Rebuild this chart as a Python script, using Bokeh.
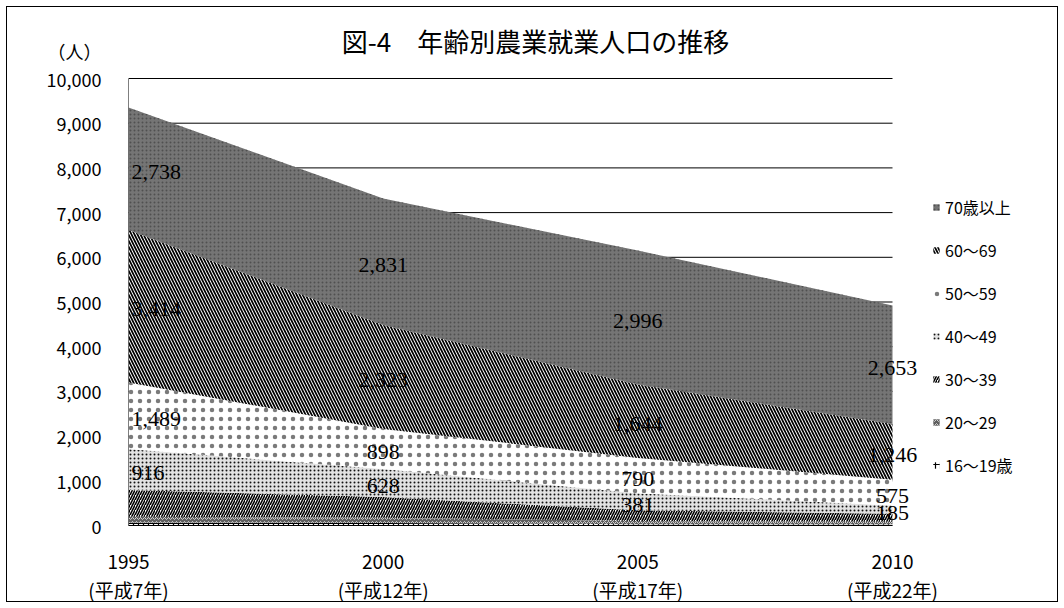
from bokeh.plotting import figure
from bokeh.models import (Range1d, FixedTicker, ColumnDataSource, LabelSet, Legend,
                          LegendItem, Label, NumeralTickFormatter)
from bokeh.core.properties import value
from bokeh.embed import file_html
from bokeh.resources import INLINE

# ---------------- data ----------------
years = [1995, 2000, 2005, 2010]
year_labels = ["1995\n(平成7年)", "2000\n(平成12年)", "2005\n(平成17年)", "2010\n(平成22年)"]

age_16_19 = [64, 55, 30, 28]
age_20_29 = [130, 120, 70, 55]
age_30_39 = [600, 460, 240, 180]
age_40_49 = [916, 628, 381, 185]
age_50_59 = [1489, 898, 790, 575]
age_60_69 = [3414, 2323, 1644, 1246]
age_70_up = [2738, 2831, 2996, 2653]

series_names = ["16～19歳", "20～29", "30～39", "40～49", "50～59", "60～69", "70歳以上"]
series_values = [age_16_19, age_20_29, age_30_39, age_40_49, age_50_59, age_60_69, age_70_up]
labeled_series = ["40～49", "50～59", "60～69", "70歳以上"]

title_text = "図-4　年齢別農業就業人口の推移"
unit_text = "（人）"
y_ticks = list(range(0, 10001, 1000))

# ---------------- layout (pixels) ----------------
W, H = 1064, 608
FRAME_L, PLOT_R, FRAME_B, PLOT_T = 128, 892, 525, 78   # plot box in page pixels
px_per_year = (PLOT_R - FRAME_L) / (years[-1] - years[0])
px_per_unit = (FRAME_B - PLOT_T) / y_ticks[-1]
x_end = years[0] + (W - FRAME_L) / px_per_year
y_end = FRAME_B / px_per_unit
unit_y = (FRAME_B - 50) / px_per_unit          # "（人）" sits near page y = 50

CJK = "Noto Sans CJK JP"

styles = {
    "16～19歳": dict(fill_color="white", hatch_pattern="cross", hatch_scale=5, hatch_weight=1.2),
    "20～29": dict(fill_color="#5e5e5e", hatch_pattern="horizontal_wave", hatch_scale=4,
                  hatch_weight=1, hatch_color="#d0d0d0"),
    "30～39": dict(fill_color="white", hatch_pattern="right_diagonal_line", hatch_scale=5, hatch_weight=1.6),
    "40～49": dict(fill_color="#e2e2e2", hatch_pattern="dot", hatch_scale=4, hatch_weight=1,
                  hatch_color="#111111"),
    "50～59": dict(fill_color="white", hatch_pattern="dot", hatch_scale=9, hatch_weight=1,
                  hatch_color="#7a7a7a"),
    "60～69": dict(fill_color="white", hatch_pattern="left_diagonal_line", hatch_scale=6, hatch_weight=1.7),
    "70歳以上": dict(fill_color="#757575", hatch_pattern="dot", hatch_scale=4, hatch_weight=1,
                  hatch_color="#505050"),
}

p = figure(width=W, height=H, output_backend="svg", toolbar_location=None,
           x_range=Range1d(years[0], x_end), y_range=Range1d(0, y_end),
           min_border_left=FRAME_L, min_border_right=0, min_border_top=0,
           min_border_bottom=H - FRAME_B)
p.styles = {"outline": "1px solid #000", "outline-offset": "-7px"}
p.outline_line_color = None
p.background_fill_alpha = 0
p.border_fill_alpha = 0
p.xgrid.grid_line_color = None
p.ygrid.grid_line_color = None

# grid lines only across the plotted years
p.segment(x0=[years[0]] * len(y_ticks), x1=[years[-1]] * len(y_ticks), y0=y_ticks, y1=y_ticks,
          line_color="black", line_width=1, level="underlay")

# ---------------- stacked areas ----------------
bottom = [0] * len(years)
renderers = {}
label_rows = {"x": [], "y": [], "t": []}
first_rows = {"x": [], "y": [], "t": []}
for name, vals in zip(series_names, series_values):
    top = [b + v for b, v in zip(bottom, vals)]
    st = dict(styles[name])
    st.setdefault("hatch_color", "black")
    r = p.varea(x=years, y1=bottom, y2=top, **st)
    renderers[name] = r
    if name in labeled_series:
        for i, (yr, b, v) in enumerate(zip(years, bottom, vals)):
            target = first_rows if i == 0 else label_rows
            target["x"].append(yr)
            target["y"].append(b + v / 2)
            target["t"].append(f"{v:,}")
    bottom = top

# y axis line (0 .. 10,000)
p.segment(x0=[years[0]], x1=[years[0]], y0=[y_ticks[0]], y1=[y_ticks[-1]],
          line_color="black", line_width=1)

lab_font = value("Liberation Serif")
p.add_layout(LabelSet(x="x", y="y", text="t", source=ColumnDataSource(first_rows),
                      text_align="left", text_baseline="middle", x_offset=3, y_offset=-3,
                      text_font=lab_font, text_font_size="22px", text_color="black"))
p.add_layout(LabelSet(x="x", y="y", text="t", source=ColumnDataSource(label_rows),
                      text_align="center", text_baseline="middle", y_offset=-3,
                      text_font=lab_font, text_font_size="22px", text_color="black"))

# ---------------- axes ----------------
p.xaxis.ticker = FixedTicker(ticks=years)
p.xaxis.major_label_overrides = {y: l for y, l in zip(years, year_labels)}
p.xaxis.bounds = (years[0], years[-1])
p.yaxis.ticker = FixedTicker(ticks=y_ticks + [unit_y])
p.yaxis.formatter = NumeralTickFormatter(format="0,0")
p.yaxis.major_label_overrides = {unit_y: unit_text}
p.yaxis.axis_line_color = None
for ax in (p.xaxis[0], p.yaxis[0]):
    ax.major_tick_line_color = None
    ax.minor_tick_line_color = None
    ax.major_label_text_font = CJK
    ax.major_label_text_color = "black"
p.xaxis.major_label_text_font_size = "19px"
p.yaxis.major_label_text_font_size = "18px"
p.xaxis.axis_line_color = "black"
p.xaxis.axis_line_width = 1
p.xaxis.major_label_standoff = 15
p.xaxis.major_label_text_line_height = 1.08
p.yaxis.major_label_standoff = 21

# ---------------- legend ----------------
items = [LegendItem(label=n, renderers=[renderers[n]]) for n in reversed(series_names)]
legend = Legend(items=items, location=(932 - FRAME_L, 48), orientation="vertical",
                glyph_width=8, glyph_height=8, label_standoff=5,
                label_height=24, spacing=19, padding=0, margin=0,
                label_text_font=CJK, label_text_font_size="16px", label_text_color="black",
                background_fill_alpha=0, border_line_color=None)
p.add_layout(legend)

# ---------------- title ----------------
p.add_layout(Label(x=535 - FRAME_L, y=FRAME_B - 40, x_units="screen", y_units="screen",
                   text=title_text, text_align="center", text_baseline="middle",
                   text_font=CJK, text_font_size="26px", text_color="black"))

open("out.html", "w").write(file_html(p, INLINE))
